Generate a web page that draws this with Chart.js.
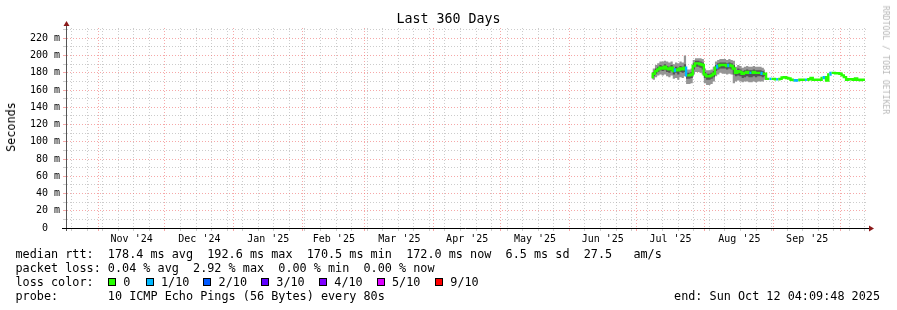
<!DOCTYPE html>
<html>
<head>
<meta charset="utf-8">
<script src="https://cdn.jsdelivr.net/npm/chart.js@4/dist/chart.umd.min.js"></script>
<style>
html,body{margin:0;padding:0;background:#fff;}
#wrap{position:relative;width:897px;height:310px;overflow:hidden;font-family:'DejaVu Sans Mono',monospace;color:#000;}
canvas{position:absolute;left:0;top:0;}
.t{position:absolute;white-space:pre;line-height:14px;font-size:11.8px;}
.box{position:absolute;width:6px;height:6px;border:1px solid #000;}
</style>
</head>
<body>
<div id="wrap">
<canvas id="c" width="897" height="310"></canvas>
</div>
<script>
// ---------------- DATA ----------------
// x values are days counted from 1 Nov 2024 (day 0)
const firstDay = 249;   // first day with data (early Jul 2025)
const medianRtt = [
  175,179,182,184,186,185,187,185,184,186,182,184,183,185,184,186,177,177,178,188,
  191,191,190,189,178,176,176,177,179,186,188,189,189,189,188,189,188,185,180,182,
  181,179,180,181,180,180,181,180,180,180,179,179,
  173,173,173,173,172.5,172.5,173,174.5,175,174,173.5,172,171.5,171,171.5,172,172,172,172,172.5,
  174,172,172,172,172,174,175,171,178,180,180,179.5,179.5,179,177,175,172,172.5,172.5,172,
  173.5,172,171.5,172,172
];
const smokeOuterHigh = [
  178,185,189,191,193,193,194,193,192,193,190,192,191,193,192,200,184,184,185,195,
  197,197,197,196,185,183,183,184,187,193,195,196,196,196,195,196,195,194,187,189,
  188,186,187,188,187,187,188,187,187,187,186,184
];
const smokeOuterLow = [
  173,172,175,177,178,177,178,176,175,177,173,174,172,175,174,176,167,167,168,178,
  181,181,180,178,168,166,166,167,170,176,178,180,179,179,178,179,178,168,170,171,
  170,169,170,170,169,169,170,169,170,170,170,172
];
const smokeInnerHigh = [
  176,181,185,187,189,188,190,188,187,189,185,187,186,188,187,190,180,180,181,191,
  194,194,193,192,181,179,179,180,182,189,191,192,192,192,191,192,191,189,183,185,
  184,182,183,184,183,183,184,183,183,183,182,181
];
const smokeInnerLow = [
  174,176,179,181,183,182,183,181,180,182,178,180,178,181,180,181,173,173,174,184,
  187,187,186,184,174,172,172,173,175,182,184,185,185,185,184,185,184,178,176,177,
  176,174,175,176,175,175,176,175,176,176,175,176
];
const lossOneTenthDays = [259,264,278,283,293,298,302,305,313,314,318,326,329];

const monthStarts = [0,30,61,92,120,151,181,212,242,273,304,334,365];
const monthLabels = ["Nov '24","Dec '24","Jan '25","Feb '25","Mar '25","Apr '25","May '25","Jun '25","Jul '25","Aug '25","Sep '25"];
const firstSunday = 2;
const yTickValues = [0,10,20,30,40,50,60,70,80,90,100,110,120,130,140,150,160,170,180,190,200,210,220,230];

const titleText = "Last 360 Days";
const yTitle = "Seconds";
const sideText = "RRDTOOL / TOBI OETIKER";
const rttLine = "median rtt:  178.4 ms avg  192.6 ms max  170.5 ms min  172.0 ms now  6.5 ms sd  27.5   am/s";
const lossLine = "packet loss: 0.04 % avg  2.92 % max  0.00 % min  0.00 % now";
const colorHead = "loss color:";
const lossLevels = ["0","1/10","2/10","3/10","4/10","5/10","9/10"];
const lossColors = ["#26ff00","#00b8ff","#0059ff","#5e00ff","#7e00ff","#dd00ff","#ff0000"];
const probeLine = "probe:       10 ICMP Echo Pings (56 Bytes) every 80s";
const endText = "end: Sun Oct 12 04:09:48 2025";

// ---------------- LAYOUT / STYLE ----------------
const X_MIN = -14.08, X_MAX = 345.92, Y_MAX = 232;
const MAJOR = 'rgba(240,110,110,0.6)';
const MINOR = 'rgba(170,170,170,0.6)';
const boxCols = [108,145.7,203.3,261,319,376.7,435];
const rowTops = [247.3,261.3,275.3,289];

const wrap = document.getElementById('wrap');
function addText(txt, left, top, extra){
  const d = document.createElement('div');
  d.className = 't';
  d.textContent = txt;
  d.style.left = left + 'px';
  d.style.top = top + 'px';
  if (extra) Object.assign(d.style, extra);
  wrap.appendChild(d);
  return d;
}
addText(titleText, 0, 12, {width:'897px', textAlign:'center', fontSize:'13.3px'});
addText(yTitle, 11, 127, {transform:'translate(-50%,-50%) rotate(-90deg)', fontSize:'11.8px'});
addText(sideText, 886, 60, {transform:'translate(-50%,-50%) rotate(90deg)', fontSize:'8.2px', color:'#b8b8b8'});
addText(rttLine, 15.5, rowTops[0]);
addText(lossLine, 15.5, rowTops[1]);
addText(colorHead, 15.5, rowTops[2]);
lossLevels.forEach((s,i)=>{
  const b = document.createElement('div');
  b.className = 'box';
  b.style.left = boxCols[i] + 'px';
  b.style.top = '278.3px';
  b.style.background = lossColors[i];
  wrap.appendChild(b);
  addText(s, boxCols[i] + 15.3, rowTops[2]);
});
addText(probeLine, 15.5, rowTops[3]);
addText(endText, 0, rowTops[3], {left:'auto', right:'17px'});

// ---------------- CHART ----------------
const pts = arr => arr.map((v,i)=>({x:firstDay+i, y:v}));
const lossSet = new Set(lossOneTenthDays);
const monthSet = new Set(monthStarts);
const weekTicks = [];
for (let d = firstSunday - 14; d <= X_MAX; d += 7) if (!monthSet.has(d)) weekTicks.push(d);
const weekSet = new Set(weekTicks);
const midTicks = {};
monthLabels.forEach((l,i)=>{ midTicks[monthStarts[i] + (monthStarts[i+1]-monthStarts[i])/2] = l; });
const xTicks = [...monthStarts.filter(v=>v<=X_MAX), ...weekTicks, ...Object.keys(midTicks).map(Number)].sort((a,b)=>a-b);

function xGridColor(ctx){
  const v = ctx.tick ? ctx.tick.value : null;
  if (monthSet.has(v)) return MAJOR;
  if (weekSet.has(v)) return MINOR;
  return 'rgba(0,0,0,0)';
}
function yGridColor(ctx){
  const v = ctx.tick ? ctx.tick.value : null;
  if (v === 0) return 'rgba(0,0,0,0)';
  return v % 20 === 0 ? MAJOR : MINOR;
}

const axesPlugin = {
  id: 'rrdAxes',
  afterDraw(chart){
    const {ctx, chartArea:a} = chart;
    ctx.save();
    ctx.lineWidth = 1;
    ctx.setLineDash([]);
    ctx.strokeStyle = '#555';
    ctx.beginPath(); ctx.moveTo(a.left - 0.5, a.bottom + 3); ctx.lineTo(a.left - 0.5, a.top - 4); ctx.stroke();
    ctx.strokeStyle = '#000';
    ctx.beginPath(); ctx.moveTo(a.left - 5, a.bottom + 0.5); ctx.lineTo(a.right + 2, a.bottom + 0.5); ctx.stroke();
    ctx.fillStyle = '#8b1a1a';
    ctx.beginPath(); ctx.moveTo(a.left - 0.5, a.top - 7); ctx.lineTo(a.left - 3.5, a.top - 2); ctx.lineTo(a.left + 2.5, a.top - 2); ctx.closePath(); ctx.fill();
    ctx.beginPath(); ctx.moveTo(a.right + 7, a.bottom + 0.5); ctx.lineTo(a.right + 2, a.bottom - 2.5); ctx.lineTo(a.right + 2, a.bottom + 3.5); ctx.closePath(); ctx.fill();
    ctx.restore();
  }
};

Chart.defaults.font.family = "'DejaVu Sans Mono', monospace";
Chart.defaults.color = '#000';

new Chart(document.getElementById('c'), {
  type: 'line',
  data: {
    datasets: [
      { label:'median', data: pts(medianRtt), order:0, borderWidth:2.4, pointRadius:0, stepped:'middle', fill:false,
        borderColor:'#26ff00',
        segment:{ borderColor: c => lossSet.has(firstDay + c.p0DataIndex) ? lossColors[1] : lossColors[0] } },
      { label:'innerHigh', data: pts(smokeInnerHigh), order:1, borderWidth:0, pointRadius:0, stepped:'middle',
        fill:'+1', backgroundColor:'#555555', borderColor:'rgba(0,0,0,0)' },
      { label:'innerLow', data: pts(smokeInnerLow), order:1, borderWidth:0, pointRadius:0, stepped:'middle',
        fill:false, borderColor:'rgba(0,0,0,0)' },
      { label:'outerHigh', data: pts(smokeOuterHigh), order:2, borderWidth:0, pointRadius:0, stepped:'middle',
        fill:'+1', backgroundColor:'#959595', borderColor:'rgba(0,0,0,0)' },
      { label:'outerLow', data: pts(smokeOuterLow), order:2, borderWidth:0, pointRadius:0, stepped:'middle',
        fill:false, borderColor:'rgba(0,0,0,0)' }
    ]
  },
  options: {
    responsive:false, animation:false, devicePixelRatio:1,
    layout:{ padding:{ left:0, right:30, top:28, bottom:62 } },
    plugins:{ legend:{display:false}, tooltip:{enabled:false}, title:{display:false} },
    scales:{
      x:{
        type:'linear', min:X_MIN, max:X_MAX, position:'bottom',
        afterBuildTicks: s => { s.ticks = xTicks.map(v=>({value:v})); },
        afterFit: s => { s.height = 20; },
        ticks:{ autoSkip:false, maxRotation:0, minRotation:0, padding:2, font:{size:10},
          callback: v => midTicks[v] !== undefined ? midTicks[v] : '' },
        grid:{ color:xGridColor, tickColor:xGridColor, lineWidth:1, tickLength:3, drawOnChartArea:true },
        border:{ display:false, dash:[1,2] }
      },
      y:{
        type:'linear', min:0, max:Y_MAX,
        afterBuildTicks: s => { s.ticks = yTickValues.map(v=>({value:v})); },
        afterFit: s => { s.width = 67; },
        ticks:{ autoSkip:false, padding:3, font:{size:10},
          callback: v => v === 0 ? '0  ' : (v % 20 === 0 ? v + ' m' : '') },
        grid:{ color:yGridColor, tickColor:yGridColor, lineWidth:1, tickLength:4 },
        border:{ display:false, dash:[1,2] }
      }
    }
  },
  plugins:[axesPlugin]
});
</script>
</body>
</html>
